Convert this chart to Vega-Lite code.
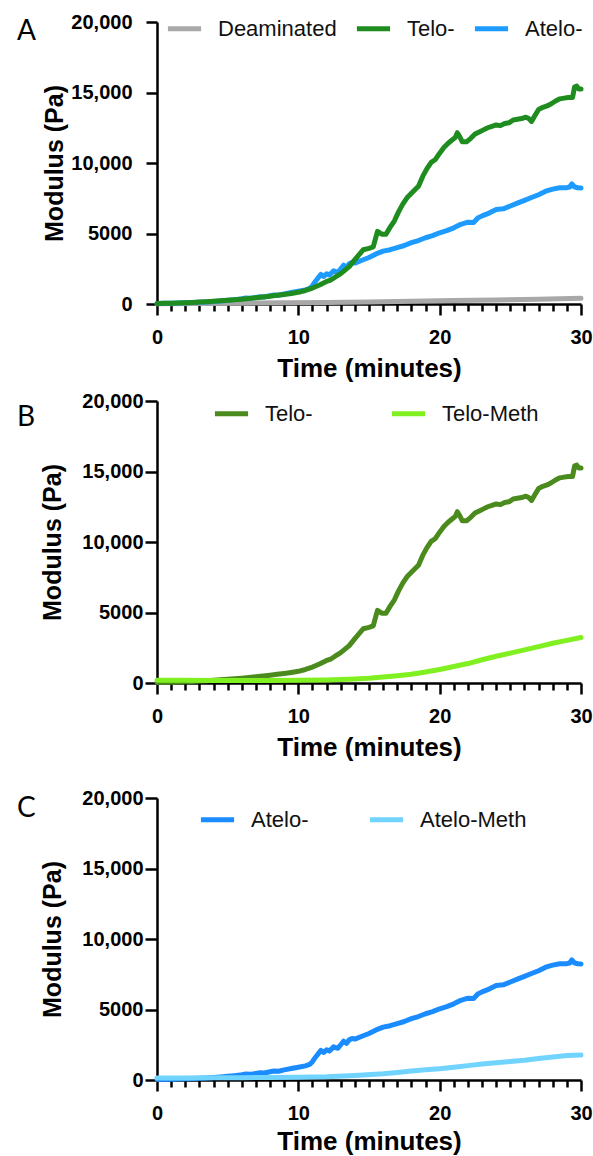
{
  "$schema": "https://vega.github.io/schema/vega-lite/v6.json",
  "background": "white",
  "padding": {"left": 17, "top": 9, "right": 5, "bottom": 2},
  "columns": 1,
  "align": "none",
  "spacing": 10,
  "resolve": {"scale": {"color": "independent"}},
  "config": {
    "view": {"stroke": null},
    "font": "Liberation Sans",
    "axis": {
      "grid": false,
      "domainColor": "black",
      "domainWidth": 2.5,
      "tickColor": "black",
      "tickWidth": 2.5,
      "labelFont": "Liberation Sans",
      "labelFontWeight": "bold",
      "labelFontSize": 20,
      "labelColor": "black",
      "titleFont": "Liberation Sans",
      "titleFontWeight": "bold",
      "titleColor": "black"
    },
    "legend": {
      "orient": "none",
      "direction": "horizontal",
      "padding": 0,
      "symbolType": "stroke",
      "symbolSize": 1100,
      "symbolStrokeWidth": 6,
      "labelFont": "Liberation Sans",
      "labelFontSize": 22,
      "labelColor": "#111111",
      "labelOffset": 14,
      "labelLimit": 300
    },
    "title": {
      "anchor": "start",
      "frame": "group",
      "font": "Lato",
      "fontSize": 28,
      "fontWeight": "normal",
      "color": "black",
      "offset": 0
    },
    "line": {"strokeWidth": 5, "strokeCap": "round", "strokeJoin": "round"}
  },
  "datasets": {
    "curves": [
      {"series":"Deaminated","time":0,"modulus":20},{"series":"Deaminated","time":3,"modulus":35},{"series":"Deaminated","time":6,"modulus":55},{"series":"Deaminated","time":9,"modulus":80},{"series":"Deaminated","time":12,"modulus":110},{"series":"Deaminated","time":15,"modulus":150},{"series":"Deaminated","time":18,"modulus":190},{"series":"Deaminated","time":21,"modulus":240},{"series":"Deaminated","time":24,"modulus":290},{"series":"Deaminated","time":27,"modulus":340},{"series":"Deaminated","time":30,"modulus":400},
      {"series":"Atelo-","time":0,"modulus":40},{"series":"Atelo-","time":0.5,"modulus":45},{"series":"Atelo-","time":1,"modulus":50},{"series":"Atelo-","time":1.5,"modulus":65},{"series":"Atelo-","time":2,"modulus":80},{"series":"Atelo-","time":2.5,"modulus":100},{"series":"Atelo-","time":3,"modulus":120},{"series":"Atelo-","time":3.5,"modulus":150},{"series":"Atelo-","time":4,"modulus":180},{"series":"Atelo-","time":4.5,"modulus":220},{"series":"Atelo-","time":5,"modulus":260},{"series":"Atelo-","time":5.5,"modulus":310},{"series":"Atelo-","time":6,"modulus":370},{"series":"Atelo-","time":6.3,"modulus":420},{"series":"Atelo-","time":6.6,"modulus":400},{"series":"Atelo-","time":7,"modulus":470},{"series":"Atelo-","time":7.3,"modulus":520},{"series":"Atelo-","time":7.6,"modulus":500},{"series":"Atelo-","time":8,"modulus":580},{"series":"Atelo-","time":8.3,"modulus":640},{"series":"Atelo-","time":8.6,"modulus":620},{"series":"Atelo-","time":9,"modulus":720},{"series":"Atelo-","time":9.5,"modulus":810},{"series":"Atelo-","time":10,"modulus":900},{"series":"Atelo-","time":10.5,"modulus":1000},{"series":"Atelo-","time":10.8,"modulus":1100},{"series":"Atelo-","time":11,"modulus":1300},{"series":"Atelo-","time":11.2,"modulus":1600},{"series":"Atelo-","time":11.4,"modulus":1850},{"series":"Atelo-","time":11.6,"modulus":2100},{"series":"Atelo-","time":11.8,"modulus":1950},{"series":"Atelo-","time":12,"modulus":2150},{"series":"Atelo-","time":12.2,"modulus":2050},{"series":"Atelo-","time":12.5,"modulus":2350},{"series":"Atelo-","time":12.8,"modulus":2250},{"series":"Atelo-","time":13,"modulus":2500},{"series":"Atelo-","time":13.2,"modulus":2750},{"series":"Atelo-","time":13.4,"modulus":2600},{"series":"Atelo-","time":13.6,"modulus":2850},{"series":"Atelo-","time":13.8,"modulus":2950},{"series":"Atelo-","time":14,"modulus":2900},{"series":"Atelo-","time":14.5,"modulus":3100},{"series":"Atelo-","time":15,"modulus":3300},{"series":"Atelo-","time":15.5,"modulus":3550},{"series":"Atelo-","time":16,"modulus":3750},{"series":"Atelo-","time":16.5,"modulus":3850},{"series":"Atelo-","time":17,"modulus":4000},{"series":"Atelo-","time":17.5,"modulus":4150},{"series":"Atelo-","time":18,"modulus":4350},{"series":"Atelo-","time":18.5,"modulus":4500},{"series":"Atelo-","time":19,"modulus":4700},{"series":"Atelo-","time":19.5,"modulus":4850},{"series":"Atelo-","time":20,"modulus":5050},{"series":"Atelo-","time":20.5,"modulus":5200},{"series":"Atelo-","time":21,"modulus":5400},{"series":"Atelo-","time":21.5,"modulus":5650},{"series":"Atelo-","time":22,"modulus":5800},{"series":"Atelo-","time":22.4,"modulus":5780},{"series":"Atelo-","time":22.7,"modulus":6100},{"series":"Atelo-","time":23,"modulus":6250},{"series":"Atelo-","time":23.5,"modulus":6450},{"series":"Atelo-","time":24,"modulus":6700},{"series":"Atelo-","time":24.5,"modulus":6750},{"series":"Atelo-","time":25,"modulus":6950},{"series":"Atelo-","time":25.5,"modulus":7150},{"series":"Atelo-","time":26,"modulus":7350},{"series":"Atelo-","time":26.5,"modulus":7550},{"series":"Atelo-","time":27,"modulus":7750},{"series":"Atelo-","time":27.5,"modulus":8000},{"series":"Atelo-","time":28,"modulus":8150},{"series":"Atelo-","time":28.5,"modulus":8250},{"series":"Atelo-","time":29,"modulus":8250},{"series":"Atelo-","time":29.2,"modulus":8300},{"series":"Atelo-","time":29.35,"modulus":8520},{"series":"Atelo-","time":29.55,"modulus":8300},{"series":"Atelo-","time":29.8,"modulus":8250},{"series":"Atelo-","time":30,"modulus":8230},
      {"series":"Telo-","time":0,"modulus":40},{"series":"Telo-","time":0.5,"modulus":45},{"series":"Telo-","time":1,"modulus":55},{"series":"Telo-","time":1.5,"modulus":70},{"series":"Telo-","time":2,"modulus":90},{"series":"Telo-","time":2.5,"modulus":110},{"series":"Telo-","time":3,"modulus":135},{"series":"Telo-","time":3.5,"modulus":165},{"series":"Telo-","time":4,"modulus":195},{"series":"Telo-","time":4.5,"modulus":225},{"series":"Telo-","time":5,"modulus":260},{"series":"Telo-","time":5.5,"modulus":300},{"series":"Telo-","time":6,"modulus":345},{"series":"Telo-","time":6.5,"modulus":395},{"series":"Telo-","time":7,"modulus":445},{"series":"Telo-","time":7.5,"modulus":500},{"series":"Telo-","time":8,"modulus":555},{"series":"Telo-","time":8.5,"modulus":615},{"series":"Telo-","time":9,"modulus":680},{"series":"Telo-","time":9.5,"modulus":750},{"series":"Telo-","time":10,"modulus":830},{"series":"Telo-","time":10.5,"modulus":960},{"series":"Telo-","time":11,"modulus":1130},{"series":"Telo-","time":11.5,"modulus":1350},{"series":"Telo-","time":12,"modulus":1600},{"series":"Telo-","time":12.3,"modulus":1700},{"series":"Telo-","time":12.6,"modulus":1900},{"series":"Telo-","time":13,"modulus":2150},{"series":"Telo-","time":13.3,"modulus":2400},{"series":"Telo-","time":13.6,"modulus":2650},{"series":"Telo-","time":14,"modulus":3150},{"series":"Telo-","time":14.3,"modulus":3500},{"series":"Telo-","time":14.6,"modulus":3850},{"series":"Telo-","time":15,"modulus":3950},{"series":"Telo-","time":15.3,"modulus":4050},{"series":"Telo-","time":15.6,"modulus":5150},{"series":"Telo-","time":15.9,"modulus":4950},{"series":"Telo-","time":16.2,"modulus":4950},{"series":"Telo-","time":16.5,"modulus":5450},{"series":"Telo-","time":16.8,"modulus":5900},{"series":"Telo-","time":17.1,"modulus":6550},{"series":"Telo-","time":17.4,"modulus":7100},{"series":"Telo-","time":17.7,"modulus":7550},{"series":"Telo-","time":18,"modulus":7850},{"series":"Telo-","time":18.3,"modulus":8150},{"series":"Telo-","time":18.5,"modulus":8350},{"series":"Telo-","time":18.8,"modulus":9050},{"series":"Telo-","time":19.1,"modulus":9600},{"series":"Telo-","time":19.4,"modulus":10050},{"series":"Telo-","time":19.7,"modulus":10250},{"series":"Telo-","time":20,"modulus":10700},{"series":"Telo-","time":20.3,"modulus":11100},{"series":"Telo-","time":20.6,"modulus":11400},{"series":"Telo-","time":20.9,"modulus":11650},{"series":"Telo-","time":21.1,"modulus":11800},{"series":"Telo-","time":21.25,"modulus":12150},{"series":"Telo-","time":21.4,"modulus":11900},{"series":"Telo-","time":21.6,"modulus":11500},{"series":"Telo-","time":21.9,"modulus":11500},{"series":"Telo-","time":22.2,"modulus":11750},{"series":"Telo-","time":22.5,"modulus":12050},{"series":"Telo-","time":22.8,"modulus":12200},{"series":"Telo-","time":23.1,"modulus":12350},{"series":"Telo-","time":23.4,"modulus":12500},{"series":"Telo-","time":23.7,"modulus":12600},{"series":"Telo-","time":24,"modulus":12700},{"series":"Telo-","time":24.3,"modulus":12650},{"series":"Telo-","time":24.6,"modulus":12800},{"series":"Telo-","time":24.9,"modulus":12850},{"series":"Telo-","time":25.2,"modulus":13050},{"series":"Telo-","time":25.5,"modulus":13100},{"series":"Telo-","time":25.8,"modulus":13150},{"series":"Telo-","time":26.1,"modulus":13250},{"series":"Telo-","time":26.3,"modulus":13150},{"series":"Telo-","time":26.5,"modulus":12950},{"series":"Telo-","time":26.7,"modulus":13300},{"series":"Telo-","time":27,"modulus":13800},{"series":"Telo-","time":27.3,"modulus":13950},{"series":"Telo-","time":27.6,"modulus":14050},{"series":"Telo-","time":27.9,"modulus":14200},{"series":"Telo-","time":28.2,"modulus":14400},{"series":"Telo-","time":28.5,"modulus":14550},{"series":"Telo-","time":28.8,"modulus":14600},{"series":"Telo-","time":29.1,"modulus":14650},{"series":"Telo-","time":29.4,"modulus":14650},{"series":"Telo-","time":29.55,"modulus":15400},{"series":"Telo-","time":29.7,"modulus":15450},{"series":"Telo-","time":29.85,"modulus":15250},{"series":"Telo-","time":30,"modulus":15250},
      {"series":"Telo-Meth","time":0,"modulus":200},{"series":"Telo-Meth","time":2,"modulus":190},{"series":"Telo-Meth","time":4,"modulus":180},{"series":"Telo-Meth","time":6,"modulus":180},{"series":"Telo-Meth","time":8,"modulus":185},{"series":"Telo-Meth","time":10,"modulus":195},{"series":"Telo-Meth","time":12,"modulus":220},{"series":"Telo-Meth","time":13,"modulus":250},{"series":"Telo-Meth","time":14,"modulus":290},{"series":"Telo-Meth","time":15,"modulus":340},{"series":"Telo-Meth","time":16,"modulus":420},{"series":"Telo-Meth","time":17,"modulus":510},{"series":"Telo-Meth","time":18,"modulus":620},{"series":"Telo-Meth","time":19,"modulus":780},{"series":"Telo-Meth","time":20,"modulus":960},{"series":"Telo-Meth","time":21,"modulus":1170},{"series":"Telo-Meth","time":22,"modulus":1380},{"series":"Telo-Meth","time":23,"modulus":1650},{"series":"Telo-Meth","time":24,"modulus":1900},{"series":"Telo-Meth","time":25,"modulus":2120},{"series":"Telo-Meth","time":26,"modulus":2350},{"series":"Telo-Meth","time":27,"modulus":2580},{"series":"Telo-Meth","time":28,"modulus":2820},{"series":"Telo-Meth","time":29,"modulus":3020},{"series":"Telo-Meth","time":30,"modulus":3230},
      {"series":"Atelo-Meth","time":0,"modulus":150},{"series":"Atelo-Meth","time":2,"modulus":150},{"series":"Atelo-Meth","time":4,"modulus":160},{"series":"Atelo-Meth","time":6,"modulus":165},{"series":"Atelo-Meth","time":8,"modulus":175},{"series":"Atelo-Meth","time":10,"modulus":190},{"series":"Atelo-Meth","time":12,"modulus":230},{"series":"Atelo-Meth","time":14,"modulus":320},{"series":"Atelo-Meth","time":16,"modulus":440},{"series":"Atelo-Meth","time":17,"modulus":530},{"series":"Atelo-Meth","time":18,"modulus":640},{"series":"Atelo-Meth","time":19,"modulus":720},{"series":"Atelo-Meth","time":20,"modulus":800},{"series":"Atelo-Meth","time":21,"modulus":900},{"series":"Atelo-Meth","time":22,"modulus":1020},{"series":"Atelo-Meth","time":23,"modulus":1130},{"series":"Atelo-Meth","time":24,"modulus":1220},{"series":"Atelo-Meth","time":25,"modulus":1320},{"series":"Atelo-Meth","time":26,"modulus":1400},{"series":"Atelo-Meth","time":27,"modulus":1520},{"series":"Atelo-Meth","time":28,"modulus":1630},{"series":"Atelo-Meth","time":29,"modulus":1730},{"series":"Atelo-Meth","time":30,"modulus":1770}
    ]
  },
  "concat": [
    {
      "width": 424,
      "height": 282,
      "title": {"text": "A", "dx": -140, "dy": 41},
      "data": {"name": "curves"},
      "transform": [{"filter": {"field": "series", "oneOf": ["Deaminated", "Atelo-", "Telo-"]}}],
      "mark": {"type": "line"},
      "encoding": {
        "x": {"field": "time", "type": "quantitative", "scale": {"domain": [0, 30], "nice": false},
          "axis": {"values": [0,1,2,3,4,5,6,7,8,9,10,11,12,13,14,15,16,17,18,19,20,21,22,23,24,25,26,27,28,29,30],
            "labelExpr": "datum.value % 10 === 0 ? datum.label : ''",
            "tickSize": {"condition": {"test": "datum.value % 10 === 0", "value": 11}, "value": 7},
            "labelFlush": false, "labelOverlap": false, "labelPadding": 12,
            "title": "Time (minutes)", "titleFontSize": 26, "titlePadding": 8}},
        "y": {"field": "modulus", "type": "quantitative", "scale": {"domain": [0, 20000], "nice": false},
          "axis": {"values": [0, 5000, 10000, 15000, 20000],
            "labelExpr": "datum.value >= 10000 ? format(datum.value, ',') : format(datum.value, 'd')",
            "tickSize": 11, "labelPadding": 14,
            "title": "Modulus (Pa)", "titleFontSize": 25, "titlePadding": 3}},
        "color": {"field": "series", "type": "nominal",
          "scale": {"domain": ["Deaminated", "Telo-", "Atelo-"], "range": ["#a8a8a8", "#1f8c1f", "#1e9bff"]},
          "legend": {"title": null, "legendX": 8, "legendY": -13, "columnPadding": 17}}
      }
    },
    {
      "columns": 1,
      "align": "none",
      "spacing": 28,
      "resolve": {"scale": {"color": "independent"}},
      "concat": [
        {
          "width": 424,
          "height": 282,
          "title": {"text": "B", "dx": -140, "dy": 45},
          "data": {"name": "curves"},
          "transform": [{"filter": {"field": "series", "oneOf": ["Telo-", "Telo-Meth"]}}],
          "mark": {"type": "line"},
          "encoding": {
            "x": {"field": "time", "type": "quantitative", "scale": {"domain": [0, 30], "nice": false},
              "axis": {"values": [0,1,2,3,4,5,6,7,8,9,10,11,12,13,14,15,16,17,18,19,20,21,22,23,24,25,26,27,28,29,30],
                "labelExpr": "datum.value % 10 === 0 ? datum.label : ''",
                "tickSize": {"condition": {"test": "datum.value % 10 === 0", "value": 11}, "value": 7},
                "labelFlush": false, "labelOverlap": false, "labelPadding": 12,
                "title": "Time (minutes)", "titleFontSize": 26, "titlePadding": 8}},
            "y": {"field": "modulus", "type": "quantitative", "scale": {"domain": [0, 20000], "nice": false},
              "axis": {"values": [0, 5000, 10000, 15000, 20000],
                "labelExpr": "datum.value >= 10000 ? format(datum.value, ',') : format(datum.value, 'd')",
                "tickSize": 12, "labelPadding": 2,
                "title": "Modulus (Pa)", "titleFontSize": 25, "titlePadding": 16}},
            "color": {"field": "series", "type": "nominal",
              "scale": {"domain": ["Telo-", "Telo-Meth"], "range": ["#4b8b1e", "#80f020"]},
              "legend": {"title": null, "legendX": 55, "legendY": -7, "columnPadding": 76}}
          }
        },
        {
          "width": 424,
          "height": 282,
          "title": {"text": "C", "dx": -140, "dy": 39},
          "data": {"name": "curves"},
          "transform": [{"filter": {"field": "series", "oneOf": ["Atelo-", "Atelo-Meth"]}}],
          "mark": {"type": "line"},
          "encoding": {
            "x": {"field": "time", "type": "quantitative", "scale": {"domain": [0, 30], "nice": false},
              "axis": {"values": [0,1,2,3,4,5,6,7,8,9,10,11,12,13,14,15,16,17,18,19,20,21,22,23,24,25,26,27,28,29,30],
                "labelExpr": "datum.value % 10 === 0 ? datum.label : ''",
                "tickSize": {"condition": {"test": "datum.value % 10 === 0", "value": 11}, "value": 7},
                "labelFlush": false, "labelOverlap": false, "labelPadding": 12,
                "title": "Time (minutes)", "titleFontSize": 26, "titlePadding": 5}},
            "y": {"field": "modulus", "type": "quantitative", "scale": {"domain": [0, 20000], "nice": false},
              "axis": {"values": [0, 5000, 10000, 15000, 20000],
                "labelExpr": "datum.value >= 10000 ? format(datum.value, ',') : format(datum.value, 'd')",
                "tickSize": 12, "labelPadding": 2,
                "title": "Modulus (Pa)", "titleFontSize": 25, "titlePadding": 16}},
            "color": {"field": "series", "type": "nominal",
              "scale": {"domain": ["Atelo-", "Atelo-Meth"], "range": ["#1a8cff", "#70d4ff"]},
              "legend": {"title": null, "legendX": 41, "legendY": 2, "columnPadding": 58}}
          }
        }
      ]
    }
  ]
}
